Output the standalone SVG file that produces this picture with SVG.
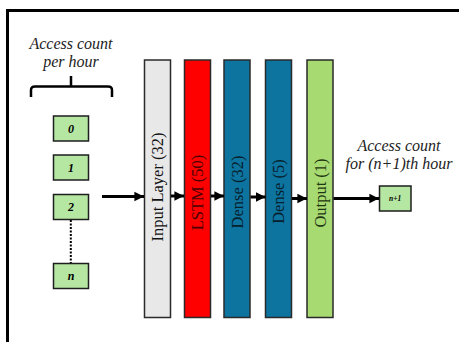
<svg xmlns="http://www.w3.org/2000/svg" width="459" height="342" viewBox="0 0 459 342">
<defs>
<marker id="ah" viewBox="0 0 10 10" refX="10" refY="5" markerWidth="3.2" markerHeight="3.4" orient="auto" markerUnits="strokeWidth">
<path d="M0,0 L10,5 L0,10 Z" fill="#000"/>
</marker>
</defs>
<style>
.frame{fill:none;stroke:#000;stroke-width:3}
.layer{stroke:#2a2a2a;stroke-width:1.5}
.ltext{font-family:"Liberation Serif",serif;font-size:16.5px;text-anchor:middle}
.box{fill:#b5e6a2;stroke:#1e1e1e;stroke-width:1.5}
.btext{font-family:"Liberation Serif",serif;font-size:12px;font-weight:bold;font-style:italic;text-anchor:middle;fill:#000}
.cap{font-family:"Liberation Serif",serif;font-size:16px;font-style:italic;text-anchor:middle;fill:#222}
.arrow{stroke:#000;stroke-width:3;fill:none;marker-end:url(#ah)}
</style>
<rect width="459" height="342" fill="#fff"/>
<path class="frame" d="M7.5,345 V10.5 H462"/>

<g id="caption-left">
<text class="cap" x="71" y="49">Access count</text>
<text class="cap" x="71" y="67">per hour</text>
<path d="M31,97 V90 Q31,86.5 35,86.5 H71 V76 M71,86.5 H108 Q112,86.5 112,90 V97" fill="none" stroke="#000" stroke-width="2.5"/>
</g>

<g id="in0"><rect class="box" x="53.5" y="116" width="35" height="25"/><text class="btext" x="71" y="132.8">0</text></g>
<g id="in1"><rect class="box" x="53.5" y="155" width="35" height="25"/><text class="btext" x="71" y="171.8">1</text></g>
<g id="in2"><rect class="box" x="53.5" y="194.5" width="35" height="25"/><text class="btext" x="71" y="211.3">2</text></g>
<g id="inn"><rect class="box" x="53.5" y="263.5" width="35" height="25"/><text class="btext" x="71" y="280">n</text></g>

<g id="input-layer"><rect class="layer" x="144.5" y="60" width="26" height="257.5" fill="#e8e8e8"/><text class="ltext" transform="translate(163,187) rotate(-90)" fill="#111">Input Layer (32)</text></g>
<g id="lstm"><rect class="layer" x="184.5" y="60" width="26" height="257.5" fill="#ff0000"/><text class="ltext" transform="translate(203,192.5) rotate(-90)" fill="#4a0000">LSTM (50)</text></g>
<g id="dense32"><rect class="layer" x="224" y="60" width="26" height="257.5" fill="#0d74a0"/><text class="ltext" transform="translate(242.5,192) rotate(-90)" fill="#06202c">Dense (32)</text></g>
<g id="dense5"><rect class="layer" x="265.5" y="60" width="26" height="257.5" fill="#0d74a0"/><text class="ltext" transform="translate(284,191.5) rotate(-90)" fill="#06202c">Dense (5)</text></g>
<g id="output"><rect class="layer" x="307" y="60" width="26" height="257.5" fill="#a8da72"/><text class="ltext" transform="translate(325.5,193) rotate(-90)" fill="#1d3510">Output (1)</text></g>

<g id="caption-right">
<text class="cap" x="399" y="150.5">Access count</text>
<text class="cap" x="399" y="169">for (n+1)th hour</text>
</g>
<g id="out"><rect class="box" x="379.5" y="186" width="31.5" height="25"/><text class="btext" x="395.2" y="201.2" style="font-size:7.5px">n+1</text></g>

<g id="connectors">
<path d="M70.8,220 V263" stroke="#000" stroke-width="2" stroke-dasharray="2,1.5" fill="none"/>
<path class="arrow" d="M102,196.5 H144"/>
<path class="arrow" d="M171,196 H184"/>
<path class="arrow" d="M211,196 H224"/>
<path class="arrow" d="M250.5,197 H265.5"/>
<path class="arrow" d="M292,198.5 H307"/>
<path class="arrow" d="M333.5,198.5 H379"/>
</g>
</svg>
